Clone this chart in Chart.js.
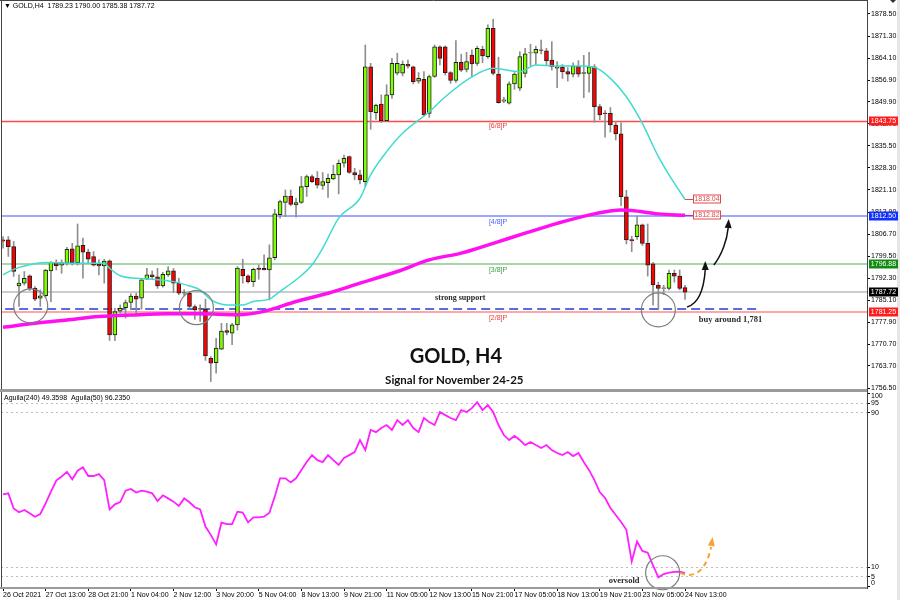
<!DOCTYPE html>
<html>
<head>
<meta charset="utf-8">
<script src="https://cdn.jsdelivr.net/npm/chart.js@4.4.0/dist/chart.umd.min.js"></script>
<style>
  html, body { margin: 0; padding: 0; background: #fff; }
  #wrap { width: 900px; height: 600px; position: relative; }
</style>
</head>
<body>
<div id="wrap"><canvas id="gold" width="900" height="600"></canvas></div>
<script>
// GOLD H4, 26 Oct - 24 Nov 2021 (one entry per 4h bar)
const opens = [1804.8,1804.8,1802.6,1789.8,1790.7,1793.1,1789.0,1785.8,1786.6,1794.7,
  1797.5,1796.6,1797.2,1801.9,1797.4,1803.0,1800.8,1799.4,1796.9,1796.3,
  1798.0,1773.8,1781.6,1782.7,1784.4,1786.5,1785.8,1792.0,1793.4,1792.8,
  1789.8,1793.4,1794.7,1790.7,1787.4,1787.4,1783.1,1782.4,1782.2,1766.2,
  1764.8,1769.2,1775.2,1774.4,1777.1,1795.2,1793.1,1791.2,1795.6,1795.5,
  1795.0,1799.0,1813.0,1817.0,1819.1,1816.2,1817.0,1822.2,1825.5,1824.9,
  1822.6,1823.5,1824.7,1826.0,1829.8,1832.0,1826.8,1826.0,1823.8,1861.3,
  1846.3,1849.1,1843.7,1852.1,1859.2,1859.2,1862.1,1861.3,1856.6,1857.2,
  1846.1,1858.1,1867.8,1867.8,1859.4,1856.8,1862.7,1860.4,1865.1,1862.4,
  1867.0,1864.6,1873.8,1858.9,1850.1,1849.4,1855.7,1854.3,1859.1,1865.8,
  1865.7,1866.8,1866.5,1863.5,1860.8,1861.1,1859.7,1858.9,1861.5,1859.1,
  1859.1,1861.3,1848.3,1846.2,1846.1,1842.3,1839.4,1818.9,1804.9,1805.9,
  1809.7,1803.7,1797.0,1790.1,1789.0,1789.0,1793.9,1793.0,1789.23];
const highs = [1805.9,1805.9,1804.3,1793.4,1794.5,1793.4,1789.6,1788.5,1795.2,1797.7,
  1798.3,1798.3,1802.4,1803.7,1810.0,1805.4,1801.8,1801.0,1798.3,1798.5,
  1798.3,1782.5,1783.6,1785.2,1787.2,1787.4,1792.3,1795.5,1794.7,1795.5,
  1794.2,1796.1,1795.5,1792.3,1788.5,1788.0,1783.6,1783.6,1785.5,1766.8,
  1772.7,1777.6,1777.6,1777.6,1796.1,1798.5,1793.4,1795.6,1796.6,1799.9,
  1803.2,1814.8,1817.8,1821.1,1821.1,1818.4,1825.5,1826.0,1826.0,1827.1,
  1826.8,1826.3,1829.2,1830.9,1832.5,1832.2,1828.2,1827.6,1868.4,1862.4,
  1849.1,1852.1,1855.4,1864.0,1865.7,1863.2,1863.5,1861.5,1859.4,1859.7,
  1858.6,1868.4,1868.1,1868.1,1859.7,1869.8,1865.4,1866.0,1866.8,1868.0,
  1868.0,1875.0,1876.8,1864.4,1851.3,1856.4,1859.4,1866.2,1867.3,1868.6,
  1868.0,1870.0,1867.3,1869.5,1863.0,1862.0,1861.0,1862.6,1863.3,1865.0,
  1866.0,1862.0,1849.0,1847.0,1848.0,1843.5,1843.0,1821.0,1806.0,1812.5,
  1810.0,1810.0,1797.5,1791.0,1790.0,1795.0,1795.0,1795.0,1790.00];
const lows = [1802.1,1799.4,1792.9,1783.1,1790.1,1788.3,1785.0,1783.1,1786.1,1784.7,
  1795.0,1793.9,1796.6,1796.6,1796.6,1792.3,1797.4,1796.3,1793.4,1790.7,
  1772.0,1771.9,1780.9,1779.3,1782.0,1780.7,1782.2,1791.8,1791.8,1789.0,
  1789.4,1792.9,1787.6,1786.9,1786.5,1782.5,1778.9,1778.2,1765.5,1758.6,
  1761.3,1769.0,1773.8,1770.6,1775.4,1790.7,1790.7,1789.6,1792.0,1795.0,
  1785.2,1798.3,1811.9,1812.4,1815.9,1812.2,1816.7,1819.0,1823.5,1821.7,
  1821.3,1818.7,1824.4,1819.8,1828.5,1826.5,1824.4,1823.1,1822.2,1840.9,
  1844.1,1843.1,1843.4,1851.0,1858.6,1858.3,1860.8,1855.7,1855.9,1845.2,
  1844.8,1857.8,1861.9,1858.6,1855.9,1856.2,1859.7,1859.6,1858.0,1861.7,
  1862.6,1864.0,1858.6,1849.4,1849.6,1849.1,1853.9,1853.5,1857.9,1861.7,
  1862.0,1865.5,1861.7,1860.2,1854.5,1857.5,1856.6,1858.0,1858.0,1851.2,
  1853.0,1843.2,1844.0,1838.3,1840.0,1837.4,1816.0,1803.5,1801.0,1805.0,
  1803.0,1793.0,1783.5,1782.0,1787.0,1788.5,1791.0,1788.5,1785.38];
const closes = [1804.4,1802.6,1794.5,1790.7,1792.3,1789.0,1785.5,1786.6,1795.0,1797.5,
  1796.4,1797.4,1801.7,1797.4,1802.9,1800.8,1798.5,1796.6,1796.3,1797.9,
  1773.8,1781.4,1782.5,1784.4,1786.5,1785.5,1791.8,1793.4,1792.8,1789.8,
  1793.6,1794.7,1790.7,1787.4,1787.6,1783.1,1782.0,1782.2,1767.0,1764.6,
  1769.5,1775.1,1774.6,1777.1,1795.6,1793.1,1791.2,1795.2,1795.2,1795.0,
  1799.0,1813.3,1817.3,1819.1,1816.4,1817.0,1822.2,1825.5,1823.8,1822.7,
  1823.8,1824.9,1826.2,1829.8,1831.4,1826.8,1826.0,1824.4,1861.3,1846.6,
  1848.8,1843.7,1852.1,1862.4,1862.4,1862.1,1861.5,1856.4,1857.5,1845.6,
  1858.1,1867.8,1864.0,1859.4,1856.8,1862.7,1860.2,1863.0,1862.2,1867.3,
  1864.8,1873.8,1859.1,1849.6,1850.5,1855.7,1858.9,1864.6,1865.5,1865.9,
  1867.0,1866.6,1863.3,1861.3,1861.3,1859.7,1858.9,1861.5,1858.9,1859.4,
  1861.3,1848.3,1845.6,1846.0,1842.3,1839.4,1818.9,1804.8,1804.6,1809.7,
  1803.7,1796.6,1790.1,1789.0,1789.2,1793.9,1793.0,1789.0,1787.72];

// fast MA (cyan) read at sample bars
const maFastBars = [0,2,5,8,15,19,20,22,25,28,32,35,37,39,42,45,47,50,52,55,58,60,63,67,69,72,75,80,83,88,92,97,100,104,108,111,114,117,120,123,126,128];
const maFastVals = [1793.4,1795.2,1796.7,1797.4,1797.2,1797.2,1795.6,1793.1,1792.3,1792.0,1791.2,1789.8,1788.5,1785.3,1783.6,1783.6,1784.7,1785.5,1788.0,1791.8,1796.6,1802.1,1811.9,1818.4,1826.0,1833.6,1839.6,1846.6,1851.5,1858.0,1860.8,1859.7,1861.9,1861.5,1861.5,1861.1,1857.5,1851.5,1842.8,1832.0,1823.3,1818.04];
// slow MA (magenta)
const maSlowBars = [0,6,12,18,24,31,37,44,49,55,61,67,74,80,86,92,98,104,111,116,118,123,128];
const maSlowVals = [1776.3,1777.6,1778.7,1779.8,1780.3,1780.7,1780.7,1780.4,1781.5,1784.7,1787.4,1790.7,1794.5,1798.3,1800.5,1803.7,1807.0,1810.2,1813.3,1814.6,1814.4,1813.3,1812.82];

// Aguila oscillator, one value per bar
const aguila = [47.8,48.3,40.5,38.5,39.7,38.0,36.2,37.6,43.1,49.2,
  54.9,57.0,59.5,55.6,60.0,61.8,57.3,57.3,58.3,55.2,
  40.0,42.6,43.8,49.7,50.6,48.7,49.7,49.2,48.3,44.3,
  47.3,45.7,44.0,41.8,45.7,43.7,41.1,40.0,31.1,26.8,
  21.9,33.1,32.4,32.4,38.8,38.3,33.3,35.9,35.9,36.2,
  38.3,46.6,56.1,56.1,54.0,56.1,60.4,64.5,68.1,65.5,
  64.5,68.1,65.5,63.0,66.6,68.1,69.7,75.9,70.7,81.1,
  80.0,82.1,83.7,81.1,86.2,83.7,86.2,82.1,80.0,87.3,
  85.2,83.7,90.4,88.8,87.3,86.2,91.4,90.4,92.4,95.5,
  91.4,94.0,90.4,83.7,78.5,75.9,78.0,75.9,73.3,74.9,
  73.3,71.8,73.3,70.7,69.2,68.1,69.7,67.6,69.2,64.5,
  60.3,55.2,49.0,45.9,40.7,37.1,33.5,29.4,13.0,23.4,
  18.5,17.6,11.0,4.8,6.5,7.3,7.7,7.8,7.0];

// murrey levels
const levelPrices = [1843.75, 1812.50, 1796.88, 1781.25];
const levelNames = ['[6/8]P', '[4/8]P', '[3/8]P', '[2/8]P'];
const supportPrice = 1782.3;

// axis ticks
const priceTicks = [1878.50,1871.30,1864.10,1856.90,1849.90,1842.70,1835.50,1828.30,1821.10,1813.90,1806.70,1799.50,1792.30,1785.10,1777.90,1770.70,1763.70,1756.50];
const aguilaTicks = [0, 5, 10, 90, 95, 100];
const xTickBars = [0,8,16,24,32,40,48,56,64,72,80,88,96,104,112,120,128];
const xTickLabels = ['26 Oct 2021','27 Oct 13:00','28 Oct 21:00','1 Nov 04:00','2 Nov 12:00','3 Nov 20:00','5 Nov 04:00','8 Nov 13:00','9 Nov 21:00','11 Nov 05:00','12 Nov 13:00','15 Nov 21:00','17 Nov 05:00','18 Nov 13:00','19 Nov 21:00','23 Nov 05:00','24 Nov 13:00'];

const last = closes.length - 1;
const smallFont = '7px "Liberation Sans", Arial, sans-serif';
const levelColors = ['#ff4848', '#9ea6ff', '#a9d6a9', '#ffa6a6'];
const levelTextColors = ['#e83c3c', '#4a5cff', '#3c9a3c', '#e83c3c'];
const tagColors = ['#ff1c1c', '#1030ff', '#108a10', '#ff1c1c'];

function curveArrow(ctx, x, y, pts, color, dashed, lw) {
  const p = pts.map(q => [x.getPixelForValue(q[0]), y.getPixelForValue(q[1])]);
  ctx.save();
  ctx.strokeStyle = color;
  ctx.fillStyle = color;
  ctx.lineWidth = lw;
  if (dashed) ctx.setLineDash([5, 4]);
  ctx.beginPath();
  ctx.moveTo(p[0][0], p[0][1]);
  ctx.bezierCurveTo(p[1][0], p[1][1], p[2][0], p[2][1], p[3][0], p[3][1]);
  ctx.stroke();
  ctx.setLineDash([]);
  // head
  const tip = p[4];
  const ang = Math.atan2(tip[1] - p[3][1], tip[0] - p[3][0]);
  const len = 9, hw = 3.5;
  const bx = tip[0] - Math.cos(ang) * len, by = tip[1] - Math.sin(ang) * len;
  ctx.beginPath();
  ctx.moveTo(tip[0], tip[1]);
  ctx.lineTo(bx + Math.sin(ang) * hw, by - Math.cos(ang) * hw);
  ctx.lineTo(bx - Math.sin(ang) * hw, by + Math.cos(ang) * hw);
  ctx.closePath();
  ctx.fill();
  ctx.restore();
}

const mt4Overlay = {
  id: 'mt4Overlay',
  beforeDatasetsDraw(chart) {
    const {ctx, chartArea: a, scales: {x, y}} = chart;
    ctx.save();
    // level lines
    levelPrices.forEach((p, i) => {
      const py = Math.round(y.getPixelForValue(p));
      ctx.strokeStyle = levelColors[i];
      ctx.lineWidth = i === 0 ? 1.3 : 2;
      ctx.beginPath();
      ctx.moveTo(a.left, py + (i === 0 ? 0.5 : 0));
      ctx.lineTo(a.right, py + (i === 0 ? 0.5 : 0));
      ctx.stroke();
    });
    // current price line
    const cp = Math.round(y.getPixelForValue(closes[last]));
    ctx.strokeStyle = '#c9cdd2';
    ctx.lineWidth = 2;
    ctx.beginPath();
    ctx.moveTo(a.left, cp);
    ctx.lineTo(a.right, cp);
    ctx.stroke();
    // strong support (dashed)
    const sp = Math.round(y.getPixelForValue(supportPrice));
    ctx.strokeStyle = '#1f3fd8';
    ctx.lineWidth = 1.6;
    ctx.setLineDash([9, 5]);
    ctx.beginPath();
    ctx.moveTo(x.getPixelForValue(0.4), sp);
    ctx.lineTo(x.getPixelForValue(142), sp);
    ctx.stroke();
    ctx.restore();
  },
  afterDatasetsDraw(chart) {
    const {ctx, chartArea: a, scales: {x, y, y2}} = chart;
    ctx.save();
    // level names
    ctx.font = smallFont;
    ctx.textAlign = 'left';
    ctx.textBaseline = 'top';
    levelPrices.forEach((p, i) => {
      ctx.fillStyle = levelTextColors[i];
      ctx.fillText(levelNames[i], x.getPixelForValue(91.2), y.getPixelForValue(p) + 2);
    });
    // circles
    ctx.strokeStyle = '#7d7d7d';
    ctx.lineWidth = 1.2;
    [[5.2, 1783.3, y], [36.3, 1782.7, y], [123, 1782.0, y], [123.8, 7.2, y2]].forEach(c => {
      ctx.beginPath();
      ctx.arc(x.getPixelForValue(c[0]), c[2].getPixelForValue(c[1]), 17, 0, Math.PI * 2);
      ctx.stroke();
    });
    // notes
    ctx.fillStyle = '#2a2a2a';
    ctx.textBaseline = 'middle';
    ctx.font = 'bold 8px "Liberation Serif", serif';
    ctx.fillText('strong support', x.getPixelForValue(81.1), y.getPixelForValue(1785.9));
    ctx.font = 'bold 8.5px "Liberation Serif", serif';
    ctx.fillText('buy around 1,781', x.getPixelForValue(130.6), y.getPixelForValue(1778.9));
    ctx.fillText('oversold', x.getPixelForValue(113.7), y2.getPixelForValue(3.1));
    ctx.fillStyle = '#111';
    ctx.textAlign = 'center';
    ctx.font = 'bold 20px Lato, "Open Sans", sans-serif';
    ctx.fillText('GOLD, H4', x.getPixelForValue(85), y.getPixelForValue(1766.6));
    ctx.font = 'bold 11.5px Lato, "Open Sans", sans-serif';
    ctx.fillText('Signal for November 24-25', x.getPixelForValue(84.7), y.getPixelForValue(1759.1));
    // arrows
    curveArrow(ctx, x, y, [[128.4, 1782.9], [130.8, 1784.2], [131.6, 1790.1], [131.8, 1795.0], [131.8, 1797.9]], '#111', false, 1.5);
    curveArrow(ctx, x, y, [[133.4, 1796.6], [134.9, 1799.9], [135.9, 1804.8], [136.1, 1808.7], [136.2, 1811.6]], '#111', false, 1.5);
    curveArrow(ctx, x, y2, [[127.1, 7.1], [130.1, 3.5], [132.1, 9.7], [132.9, 20.5], [133.2, 25.7]], '#f7a234', true, 2);
    ctx.restore();
  },
  afterDraw(chart) {
    const {ctx, chartArea: a, scales: {x, y, y2}} = chart;
    ctx.save();
    // frame
    ctx.fillStyle = '#e6e6e6';
    ctx.fillRect(897, 0, 3, 600);
    ctx.strokeStyle = '#444';
    ctx.lineWidth = 1;
    ctx.beginPath();
    ctx.moveTo(1.5, 0); ctx.lineTo(1.5, a.bottom);
    ctx.moveTo(0, 0.5); ctx.lineTo(a.right, 0.5);
    ctx.moveTo(a.right + 0.5, 0); ctx.lineTo(a.right + 0.5, a.bottom + 1);
    ctx.stroke();
    ctx.fillStyle = '#9a9a9a';
    ctx.fillRect(0, y2.top - 2, a.right, 3);
    ctx.fillRect(0, a.bottom - 1, a.right, 2);
    // end labels of the oscillator scale, nudged inside the pane like MT4 does
    ctx.font = smallFont;
    ctx.fillStyle = '#000';
    ctx.textAlign = 'left';
    ctx.textBaseline = 'middle';
    ctx.fillText('100', a.right + 4, y2.getPixelForValue(100) + 3);
    ctx.fillText('0', a.right + 4, y2.getPixelForValue(0) - 4);
    // right side price tags
    ctx.textAlign = 'center';
    const tag = (p, bg) => {
      const py = Math.round(y.getPixelForValue(p));
      ctx.fillStyle = bg;
      ctx.fillRect(a.right + 2, py - 4.5, 29, 9);
      ctx.fillStyle = '#fff';
      ctx.fillText(p.toFixed(2), a.right + 16.5, py + 0.5);
    };
    levelPrices.forEach((p, i) => tag(p, tagColors[i]));
    tag(closes[last], '#000');
    // MA value boxes
    const mx = x.getPixelForValue(last);
    [[maFastVals[maFastVals.length - 1], '#e04848'], [maSlowVals[maSlowVals.length - 1], '#e04848']].forEach(([v, col], k) => {
      const py = Math.round(y.getPixelForValue(v));
      ctx.strokeStyle = k === 0 ? '#e04848' : '#d020c0';
      ctx.lineWidth = 1;
      ctx.beginPath();
      ctx.moveTo(mx, py + 0.5); ctx.lineTo(mx + 8, py + 0.5);
      ctx.stroke();
      ctx.fillStyle = '#fff';
      ctx.fillRect(mx + 8, py - 4.5, 28, 9);
      ctx.strokeStyle = col;
      ctx.strokeRect(mx + 8.5, py - 4, 27, 8);
      ctx.fillStyle = col;
      ctx.fillText(v.toFixed(2), mx + 22, py + 0.5);
    });
    // headers
    ctx.textAlign = 'left';
    ctx.fillStyle = '#000';
    ctx.font = smallFont;
    ctx.fillText('\u25BC GOLD,H4  ' + [opens[last], highs[last], lows[last], closes[last]].map(v => v.toFixed(2)).join(' '), 4, 6);
    ctx.fillText('Aguila(240) 49.3598  Aguila(50) 96.2350', 4, y2.top + 7);
    // small marker top right
    ctx.fillStyle = '#333';
    ctx.beginPath();
    ctx.moveTo(890, 0); ctx.lineTo(896, 0); ctx.lineTo(893, 3);
    ctx.closePath();
    ctx.fill();
    ctx.restore();
  }
};

const pxPerBar = 682 / 128;
const xMin = (1 - 3) / pxPerBar;
const xMax = (867 - 3) / pxPerBar;
const noPad = s => { s.paddingTop = 0; s.paddingBottom = 0; s.paddingLeft = 0; s.paddingRight = 0; };

new Chart(document.getElementById('gold'), {
  type: 'bar',
  data: {
    datasets: [
      {
        label: 'wicks',
        data: highs.map((h, i) => ({x: i, y: [lows[i], h]})),
        backgroundColor: '#8f8f8f',
        borderWidth: 0,
        barThickness: 1,
        grouped: false,
        order: 5
      },
      {
        label: 'bodies',
        data: opens.map((o, i) => ({x: i, y: [o, closes[i]]})),
        backgroundColor: c => closes[c.dataIndex] >= opens[c.dataIndex] ? '#80ff00' : '#ff0000',
        borderColor: '#1e1e1e',
        borderWidth: 1,
        borderSkipped: false,
        barThickness: 4,
        grouped: false,
        order: 4
      },
      {
        type: 'line',
        label: 'MA fast',
        data: maFastBars.map((b, i) => ({x: b, y: maFastVals[i]})),
        borderColor: '#3fdccf',
        borderWidth: 1.5,
        pointRadius: 0,
        cubicInterpolationMode: 'monotone',
        order: 2
      },
      {
        type: 'line',
        label: 'MA slow',
        data: maSlowBars.map((b, i) => ({x: b, y: maSlowVals[i]})),
        borderColor: '#ff10f0',
        borderWidth: 3.5,
        pointRadius: 0,
        cubicInterpolationMode: 'monotone',
        order: 1
      },
      {
        type: 'line',
        label: 'Aguila',
        yAxisID: 'y2',
        data: aguila.map((v, i) => ({x: i, y: v})),
        borderColor: '#ff20ff',
        borderWidth: 1.8,
        pointRadius: 0,
        tension: 0,
        order: 1
      }
    ]
  },
  options: {
    responsive: false,
    animation: false,
    layout: {padding: {left: 1, top: 1, right: 0, bottom: 0}},
    plugins: {legend: {display: false}, tooltip: {enabled: false}},
    scales: {
      x: {
        type: 'linear',
        min: xMin,
        max: xMax,
        offset: false,
        afterBuildTicks: s => { s.ticks = xTickBars.map(v => ({value: v})); },
        afterFit: s => { s.height = 12; noPad(s); },
        grid: {drawOnChartArea: false, drawTicks: true, tickLength: 3, tickColor: '#000', offset: false},
        border: {display: false},
        ticks: {
          autoSkip: false, maxRotation: 0, align: 'start', padding: 0,
          color: '#000', font: {family: '"Liberation Sans", Arial, sans-serif', size: 7},
          callback: v => xTickLabels[xTickBars.indexOf(v)] || ''
        }
      },
      y: {
        type: 'linear',
        position: 'right',
        stack: 'panes',
        stackWeight: 390,
        min: 1756.5 - 3 / 3.066,
        max: 1878.5 + 13 / 3.066,
        afterBuildTicks: s => { s.ticks = priceTicks.map(v => ({value: v})); },
        afterFit: s => { s.width = 33; noPad(s); },
        grid: {drawOnChartArea: false, drawTicks: true, tickLength: 3, tickColor: '#000'},
        border: {display: false},
        ticks: {
          autoSkip: false, padding: 1, color: '#000',
          font: {family: '"Liberation Sans", Arial, sans-serif', size: 7},
          callback: v => v.toFixed(2)
        }
      },
      y2: {
        type: 'linear',
        position: 'right',
        stack: 'panes',
        stackWeight: 197,
        min: -0.7,
        max: 101.3,
        afterBuildTicks: s => { s.ticks = aguilaTicks.map(v => ({value: v})); },
        afterFit: s => { s.width = 33; noPad(s); },
        grid: {
          color: c => (c.tick && (c.tick.value === 0 || c.tick.value === 100)) ? 'rgba(0,0,0,0)' : '#bdbdbd',
          drawTicks: true, tickLength: 3, tickColor: '#000', tickBorderDash: []
        },
        border: {display: false, dash: [2, 3]},
        ticks: {
          autoSkip: false, padding: 1, color: '#000',
          font: {family: '"Liberation Sans", Arial, sans-serif', size: 7},
          callback: v => (v === 0 || v === 100) ? '' : String(v)
        }
      }
    }
  },
  plugins: [mt4Overlay]
});
</script>
</body>
</html>
